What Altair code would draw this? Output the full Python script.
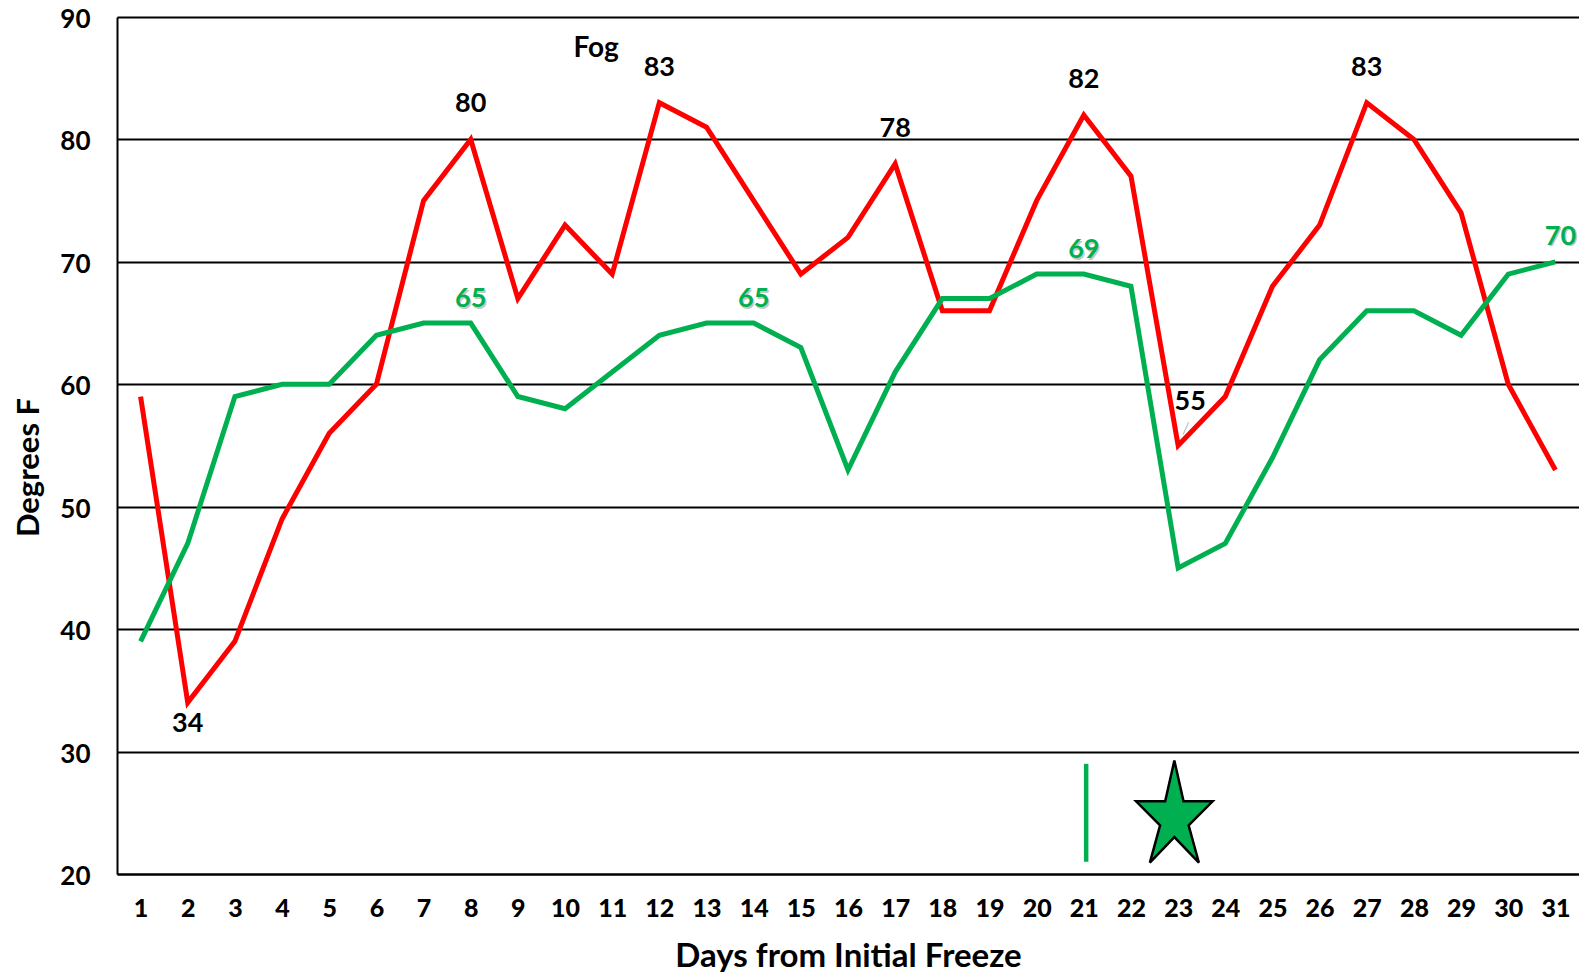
import altair as alt
import pandas as pd

# ---- data ----
days = list(range(1, 32))
high_temps = [59, 34, 39, 49, 56, 60, 75, 80, 67, 73, 69, 83, 81, 75, 69, 72, 78,
              66, 66, 75, 82, 77, 55, 59, 68, 73, 83, 80, 74, 60, 53]
low_temps = [39, 47, 59, 60, 60, 64, 65, 65, 59, 58, 61, 64, 65, 65, 63, 53, 61,
             67, 67, 69, 69, 68, 45, 47, 54, 62, 66, 66, 64, 69, 70]
y_ticks = [20, 30, 40, 50, 60, 70, 80, 90]

high_label_days = [8, 12, 17, 21, 27]
low_point_day = [2]
dip_day = [23]
green_label_days = [8, 14, 21]
green_end_day = [31]

note_text = ["Fog"]
note_day = [10.66]
note_val = [86.7]

marker_day = [21.05]
marker_lo = [21]
marker_hi = [29]

star_day = [22.92]
star_val = [25.1]

RED = "#FF0000"
GREEN = "#00B050"
FONT = "Lato"
HEAVY = "'Lato Black', Lato"

df = pd.DataFrame({"day": days, "high": high_temps, "low": low_temps})
long = df.melt("day", var_name="series", value_name="temp")

x_enc = alt.X("day:Q", scale=alt.Scale(domain=[0.5, 31.5], nice=False, zero=False),
              axis=alt.Axis(values=days, format="d", title="Days from Initial Freeze",
                            grid=False, ticks=False, labelPadding=34, labelBaseline="middle",
                            labelFontSize=25, labelFontWeight=900, labelFont=HEAVY, labelColor="black",
                            domainColor="black", domainWidth=2,
                            titleFont=FONT, titleFontSize=33, titleFontWeight="bold", titleColor="black",
                            titleX=731, titleY=92, titleAlign="center", titleBaseline="alphabetic"))
y_enc = alt.Y("temp:Q", scale=alt.Scale(domain=[20, 90], nice=False, zero=False),
              axis=alt.Axis(values=y_ticks, format="d", title="Degrees F",
                            grid=True, gridColor="black", gridWidth=2, gridOpacity=1,
                            ticks=False, labelPadding=27, labelFontSize=26, labelFontWeight="bold",
                            labelFont=FONT, labelColor="black", labelOffset=2.5,
                            domainColor="black", domainWidth=2,
                            titleFont=FONT, titleFontSize=31, titleFontWeight="bold", titleColor="black",
                            titleX=-88, titleY=450, titleAlign="center", titleBaseline="middle",
                            titleAngle=270))

base = alt.Chart(long)

lines = base.mark_line(strokeWidth=5, strokeJoin="miter").encode(
    x=x_enc, y=y_enc,
    color=alt.Color("series:N", scale=alt.Scale(domain=["high", "low"], range=[RED, GREEN]), legend=None),
)

def txt(**kw):
    d = dict(font=FONT, fontSize=27, fontWeight="bold", baseline="middle", align="center")
    d.update(kw)
    return d

high_df = df[df["day"].isin(high_label_days)]
high_labels = alt.Chart(high_df).mark_text(**txt(color="black", dy=-35)).encode(
    x="day:Q", y="high:Q", text=alt.Text("high:Q", format="d"))

low_pt_df = df[df["day"].isin(low_point_day)]
low_pt_label = alt.Chart(low_pt_df).mark_text(**txt(color="black", dy=21)).encode(
    x="day:Q", y="high:Q", text=alt.Text("high:Q", format="d"))

dip_df = df[df["day"].isin(dip_day)]
dip_label = alt.Chart(dip_df).mark_text(**txt(color="black", dx=12, dy=-44)).encode(
    x="day:Q", y="high:Q", text=alt.Text("high:Q", format="d"))
dip_leader = alt.Chart(dip_df).mark_point(shape="M0,0L0.45,-1", size=600, stroke="#A6A6A6",
                                          strokeWidth=1.2, filled=False, xOffset=5, yOffset=-11).encode(
    x="day:Q", y="high:Q")

green_df = df[df["day"].isin(green_label_days)]
green_shadow = alt.Chart(green_df).mark_text(**txt(color="#9a9a9a", opacity=0.55, dx=1.5, dy=-22.5)).encode(
    x="day:Q", y="low:Q", text=alt.Text("low:Q", format="d"))
green_labels = alt.Chart(green_df).mark_text(**txt(color=GREEN, dy=-24)).encode(
    x="day:Q", y="low:Q", text=alt.Text("low:Q", format="d"))

gend_df = df[df["day"].isin(green_end_day)]
gend_shadow = alt.Chart(gend_df).mark_text(**txt(color="#9a9a9a", opacity=0.55, dx=6.5, dy=-23.5)).encode(
    x="day:Q", y="low:Q", text=alt.Text("low:Q", format="d"))
gend_label = alt.Chart(gend_df).mark_text(**txt(color=GREEN, dx=5, dy=-25)).encode(
    x="day:Q", y="low:Q", text=alt.Text("low:Q", format="d"))

note_df = pd.DataFrame({"day": note_day, "val": note_val, "text": note_text})
note = alt.Chart(note_df).mark_text(font=FONT, fontSize=28, fontWeight="bold", color="black",
                                    baseline="alphabetic", align="center").encode(
    x="day:Q", y="val:Q", text="text:N")

marker_df = pd.DataFrame({"day": marker_day, "lo": marker_lo, "hi": marker_hi})
marker = alt.Chart(marker_df).mark_rule(color=GREEN, strokeWidth=4.5).encode(
    x="day:Q", y="lo:Q", y2="hi:Q")

STAR = "M0,-1L0.18,-0.2L0.75,-0.2L0.28,0.27L0.48,1L0,0.5L-0.48,1L-0.28,0.27L-0.75,-0.2L-0.18,-0.2Z"
star_df = pd.DataFrame({"day": star_day, "val": star_val})
star = alt.Chart(star_df).mark_point(shape=STAR, size=10404, filled=True, fill=GREEN, fillOpacity=1,
                                     stroke="black", strokeWidth=2.5, opacity=1).encode(
    x="day:Q", y="val:Q")

chart = alt.layer(
    lines, marker, star, dip_leader, high_labels, low_pt_label, dip_label,
    green_shadow, green_labels, gend_shadow, gend_label, note
).properties(
    width=1462, height=857,
    autosize=alt.AutoSizeParams(type="none"),
    padding={"left": 109, "top": 9, "right": 0, "bottom": 104},
    background="white",
).configure_view(stroke=None)

chart.save("out.html", embed_options={"renderer": "svg", "actions": False})
